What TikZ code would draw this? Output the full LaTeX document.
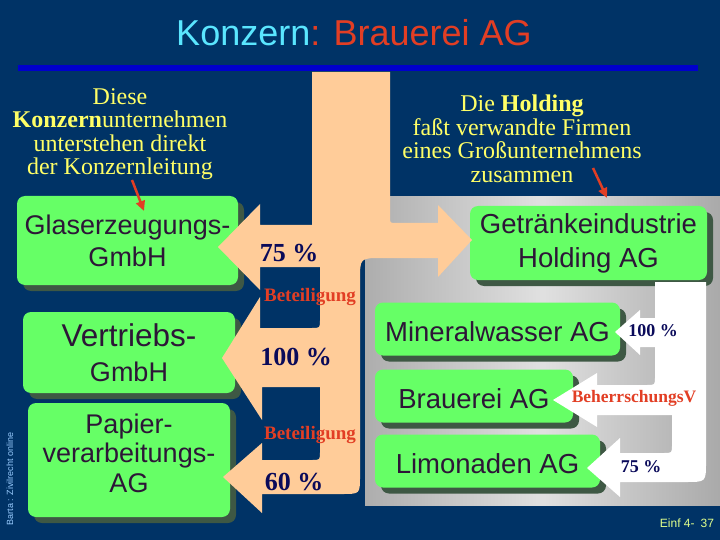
\documentclass[tikz,border=0pt]{standalone}
\usepackage{fontspec}
\setmainfont{Liberation Serif}
\newfontfamily\arial{Liberation Sans}
\usetikzlibrary{arrows.meta,shadows}
\definecolor{navy}{RGB}{0,51,102}
\definecolor{rule}{RGB}{0,0,204}
\definecolor{peach}{RGB}{255,204,153}
\definecolor{leaf}{RGB}{102,255,102}
\definecolor{moss}{RGB}{62,88,68}
\definecolor{plum}{RGB}{45,22,55}
\definecolor{lemon}{RGB}{255,255,102}
\definecolor{sky}{RGB}{90,230,255}
\definecolor{brick}{RGB}{226,62,36}
\definecolor{ink}{RGB}{10,10,90}
\definecolor{pale}{RGB}{153,204,255}
\definecolor{lime}{RGB}{225,255,140}
\pgfdeclarehorizontalshading{panel}{100bp}{color(0bp)=(black!52); color(50bp)=(black!12); color(100bp)=(black!55)}
\tikzset{
  >={Triangle[length=10pt,width=9pt]},
  firm/.style={fill=leaf,text=plum,rounded corners=8pt,align=center,inner sep=0pt,
    font=\arial\fontsize{27}{32}\selectfont,
    drop shadow={shadow xshift=6pt,shadow yshift=-6pt,fill=moss,opacity=1}},
  note/.style={text=lemon,align=center,font=\fontsize{24}{23.5}\selectfont},
  pct/.style={text=ink,font=\bfseries\fontsize{#1}{#1}\selectfont},
  pct/.default=26,
  tag/.style={text=brick,font=\bfseries\fontsize{#1}{#1}\selectfont},
  tag/.default=19,
  pointer/.style={->,line width=2.5pt,draw=brick},
}

\begin{document}
\begin{tikzpicture}[x=1pt,y=-1pt]
  \fill[navy] (0,0) rectangle (720,540);
  \useasboundingbox (0,0) rectangle (720,540);
  % holding panel
  \begin{scope}[y=1pt]
    \shade[shading=panel] (365,-505) rectangle (720,-197);
  \end{scope}

  \node[font=\arial\fontsize{36}{36}\selectfont] (title) at (354,33)
    {\textcolor{sky}{Konzern}\textcolor{brick}{: Brauerei AG}};

  \node[note] (konzernnote) at (120,134) {Diese\\\textbf{Konzern}unternehmen\\unterstehen direkt\\der Konzernleitung};
  \node[note] (holdingnote) at (522,139) {Die \textbf{Holding}\\faßt verwandte Firmen\\eines Großunternehmens\\zusammen};

  % companies
  \node[firm,minimum width=221pt,minimum height=89pt] (glas) at (127.5,240.5) {Glaserzeugungs-\\GmbH};
  \node[firm,minimum width=212pt,minimum height=81pt,font=\arial\fontsize{27}{35}\selectfont] (vertrieb) at (129,352.5)
    {{\fontsize{31.5}{35}\selectfont Vertriebs-}\\GmbH};
  \node[firm,minimum width=202pt,minimum height=114pt,text depth=14pt,font=\arial\fontsize{27}{29.5}\selectfont] (papier) at (129,460)
    {Papier-\\verarbeitungs-\\AG};
  \node[firm,minimum width=237pt,minimum height=74pt,font=\arial\fontsize{27.5}{34}\selectfont] (holding) at (588.5,243)
    {Getränkeindustrie\\Holding AG};
  \foreach \n/\t/\x/\y/\w in {mineral/Mineralwasser AG/497.5/329/245,brauerei/Brauerei AG/474/396/198,limo/Limonaden AG/487.5/461/225}
    \node[firm,minimum width=\w pt,minimum height=53pt,text height=25pt,text depth=0pt,font=\arial\fontsize{27.5}{32}\selectfont] (\n) at (\x,\y) {\t};

  % Beteiligungen der Konzernleitung
  \fill[peach] (312,72) -- (390,72) -- (390,217) .. controls (390,223) .. (396,223) -- (438,223) -- (438,205)
    -- (472,240) -- (438,277) -- (438,258) -- (382,258) .. controls (360,258) .. (360,280)
    -- (360,476) .. controls (360,494) .. (342,494) -- (262,494) -- (262,513) -- (223,477) -- (262,443)
    -- (262,460) -- (312,460) .. controls (320,460) .. (320,452) -- (320,387) -- (262,387) -- (262,420)
    -- (222,358) -- (260,297) -- (260,328) -- (312,328) .. controls (320,328) .. (320,320) -- (320,267)
    -- (260,267) -- (260,290) -- (218,247) -- (260,204) -- (260,225) -- (312,225) -- cycle;
  % Beteiligungen der Holding
  \fill[white] (655,282) -- (706,282) -- (706,462) .. controls (706,482) .. (686,482) -- (620,482) -- (620,497)
    -- (587,468) -- (620,438) -- (620,453) -- (664,453) .. controls (672,453) .. (672,445) -- (672,415)
    -- (597,415) -- (597,427) -- (553,400) -- (597,373) -- (597,385) -- (647,385) .. controls (655,385) .. (655,377)
    -- (655,347) -- (640,347) -- (640,355) -- (615,332) -- (640,310) -- (640,318) -- (655,318) -- cycle;

  \node[pct] (p75) at (289,253) {75 \%};
  \node[tag] (bet1) at (310,297) {Beteiligung};
  \node[pct] (p100) at (296,357) {100 \%};
  \node[tag] (bet2) at (310,435) {Beteiligung};
  \node[pct] (p60) at (294,482) {60 \%};
  \node[pct=18] (q100) at (653,331) {100 \%};
  \node[tag=17.5] (bv) at (634,398) {BeherrschungsV};
  \node[pct=18] (q75) at (641,467) {75 \%};

  \draw[rule,line width=6pt] (18,68) -- (698,68);

  \coordinate (k1) at (132,180);
  \coordinate (k2) at (144,211);
  \draw[pointer] (k1) -- (k2);
  \coordinate (h1) at (593,168);
  \coordinate (h2) at (607,198);
  \draw[pointer] (h1) -- (h2);

  \node[rotate=90,text=pale,font=\arial\fontsize{9}{9}\selectfont] (credit) at (10,479) {Barta : Zivilrecht online};
  \node[text=lime,font=\arial\fontsize{12}{12}\selectfont] (page) at (687,523) {Einf 4-\enspace 37};
\end{tikzpicture}
\end{document}
